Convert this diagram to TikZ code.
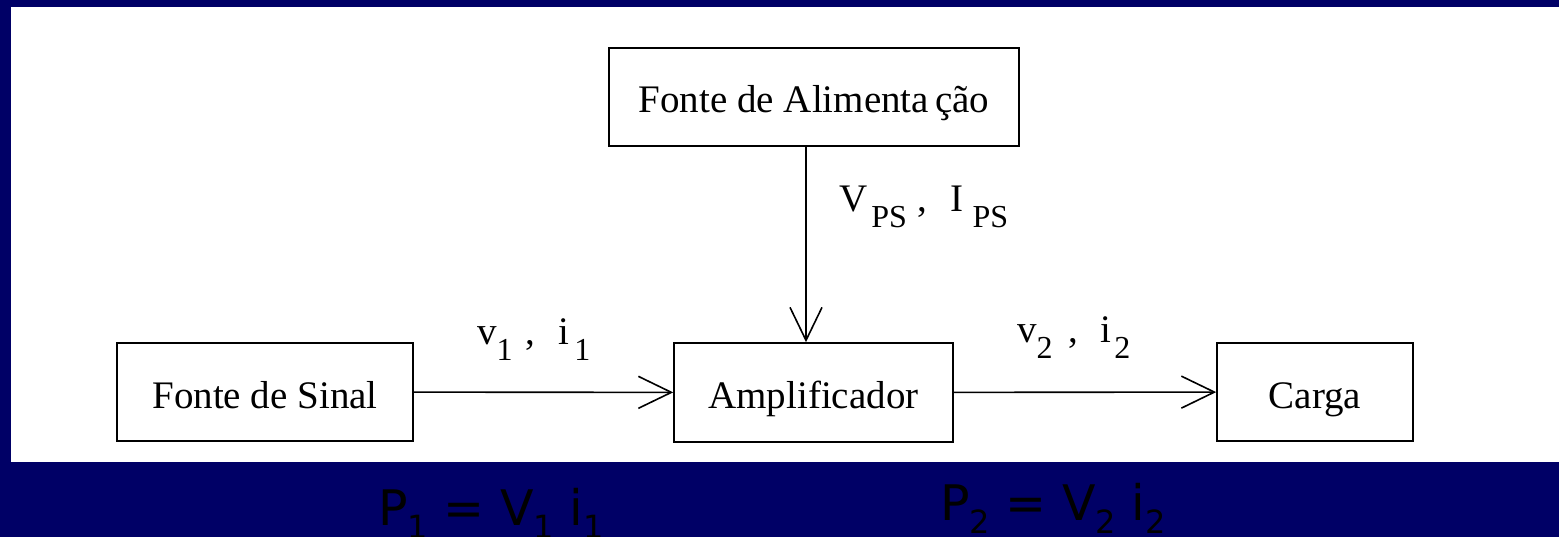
\documentclass[tikz,border=0pt]{standalone}
\usepackage{fontspec}
\setmainfont{Liberation Serif}
\newfontfamily\dejavu{DejaVu Sans}
\usetikzlibrary{arrows.meta}
\definecolor{bgnavy}{RGB}{0,0,102}
\newcommand\lsub[1]{\raisebox{-16pt}{\fontsize{32}{32}\selectfont #1}}
\newcommand\bsub[1]{\raisebox{-13pt}{\fontsize{32}{32}\selectfont #1}}
\tikzset{
  blockbox/.style={draw, line width=1.6pt, inner sep=0pt, text height=32pt, text depth=0pt,
    font=\fontsize{39}{39}\selectfont},
  flowlabel/.style={anchor=base west, inner sep=0pt, font=\fontsize{39}{39}\selectfont},
  powerlabel/.style={anchor=base west, inner sep=0pt, font=\dejavu\fontsize{49}{49}\selectfont},
  flow/.style={line width=1.6pt, -{Straight Barb[length=33pt,width=32pt,line width=1.6pt]}}
}
\begin{document}
\begin{tikzpicture}[x=1pt,y=-1pt]
\useasboundingbox (0,0) rectangle (1559,537);
\fill[bgnavy] (0,0) rectangle (1559,537);
\fill[white] (11,7) rectangle (1559,462);

\node[blockbox, minimum width=296pt, minimum height=98pt] (sinal) at (265,392) {Fonte de Sinal};
\node[blockbox, minimum width=279pt, minimum height=99pt] (amp) at (813.5,392.5) {Amplificador};
\node[blockbox, minimum width=196pt, minimum height=98pt] (carga) at (1315,392) {Carga};
\node[blockbox, minimum width=410pt, minimum height=98pt] (alim) at (814,97) {Fonte de Alimenta\hspace{6pt}ção};

\draw[flow] (sinal) -- (amp);
\draw[flow] (amp) -- (carga);
\draw[flow] ([xshift=-8pt]alim.south) -- ([xshift=-7.5pt]amp.north);

\node[flowlabel] (l1) at (477,345) {v\lsub{1}\hspace{13pt},\hspace{23pt}i\hspace{5pt}\lsub{1}};
\node[flowlabel] (l2) at (1017,343) {v\lsub{2}\hspace{16pt},\hspace{22pt}i\hspace{3pt}\lsub{2}};
\node[flowlabel] (lps) at (839,212) {V\hspace{4pt}\lsub{PS}\hspace{11pt},\hspace{23pt}I\hspace{9pt}\lsub{PS}};

\node[powerlabel] (p1) at (378,525) {P\bsub{1} = V\bsub{1} i\bsub{1}};
\node[powerlabel] (p2) at (940,520) {P\bsub{2} = V\bsub{2} i\bsub{2}};
\end{tikzpicture}
\end{document}
